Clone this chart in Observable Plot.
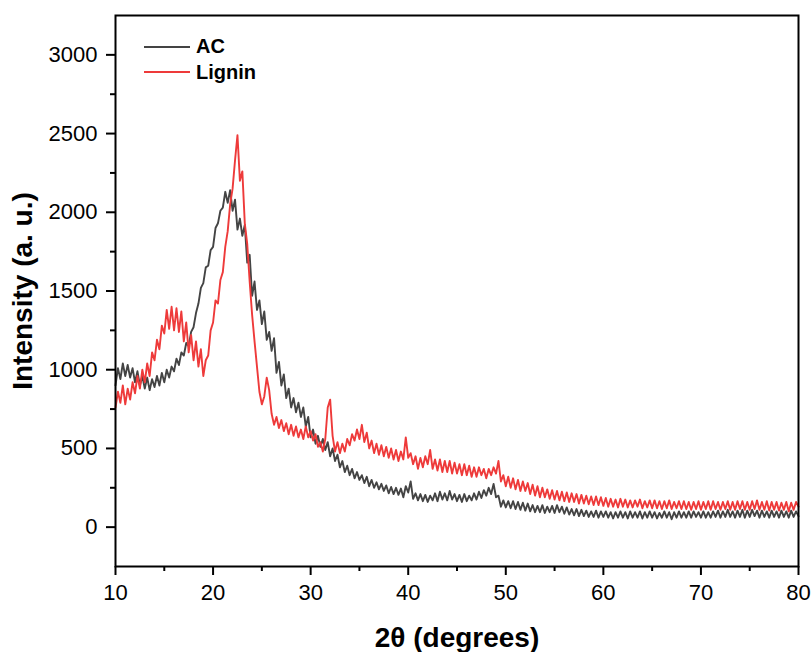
<!DOCTYPE html>
<html>
<head>
<meta charset="utf-8">
<script src="https://cdn.jsdelivr.net/npm/d3@7"></script>
<script src="https://cdn.jsdelivr.net/npm/@observablehq/plot@0.6"></script>
<style>
  html, body { margin: 0; padding: 0; background: #fff; }
  #wrap { position: relative; width: 811px; height: 652px; font-family: "Liberation Sans", Arial, sans-serif; }
  #legend { position: absolute; left: 144px; top: 34px; font-weight: bold; font-size: 20px; color: #000; }
  #legend .row { display: flex; align-items: center; height: 25.6px; }
  #legend .sw { width: 46px; height: 2px; margin-right: 6px; }
  g[aria-label="x-axis label"] text, g[aria-label="y-axis label"] text { font-size: 28px; font-weight: bold; }
</style>
</head>
<body>
<div id="wrap"><div id="chart"></div><div id="legend"></div></div>
<script>
// 2θ sampling grid (degrees): 10 to 80 every 0.25
const thetaStart = 10, thetaStep = 0.25;

// AC intensities (a. u.), one row per degree (x.00, x.25, x.50, x.75)
const acValues = [
  900,1010,940,1040,   960,1030,950,1010,   920,990,900,960,    880,950,870,940,
  890,960,900,980,     920,1000,950,1020,   990,1070,1030,1110, 1090,1170,1150,1240,
  1270,1360,1420,1520, 1550,1650,1660,1760, 1780,1900,1930,2010, 2030,2130,2060,2140,
  2010,2080,1890,1960, 1850,1920,1680,1730, 1470,1560,1380,1440, 1290,1370,1190,1240,
  1120,1200,980,1050,  900,970,820,880,     760,820,730,790,     700,760,640,700,
  570,620,530,580,     510,560,490,540,     450,500,420,460,     380,420,350,390,
  330,370,310,350,     300,330,280,320,     260,300,250,285,     240,275,230,265,
  215,255,210,250,     205,245,190,260,     220,290,180,215,     170,210,165,205,
  160,200,170,215,     165,225,175,215,     170,230,175,210,     165,205,160,210,
  165,200,170,215,     175,225,185,235,     200,250,210,275,     190,200,130,170,
  125,165,120,165,     115,160,110,155,     105,150,100,140,     95,135,95,140,
  90,130,95,135,       90,140,95,130,       85,125,80,115,       75,115,70,110,
  70,105,65,100,       65,105,60,100,       65,100,60,95,        55,95,60,100,
  60,95,55,100,        60,95,60,100,        55,95,60,100,        60,95,55,90,
  60,100,60,95,        50,95,60,100,        60,95,60,100,        60,100,65,95,
  60,100,60,95,        60,100,65,105,       60,100,65,110,       65,100,60,105,
  65,110,60,105,       65,110,70,105,       60,105,65,100,       60,105,65,100,
  60,105,65,100,       60,105,65,100,
  70
];

// Lignin intensities (a. u.), one row per degree (x.00, x.25, x.50, x.75)
const ligninValues = [
  760,860,790,900,     780,880,810,920,     850,960,880,1000,    920,1040,960,1110,
  1060,1190,1130,1280, 1230,1380,1260,1400, 1250,1390,1240,1370, 1180,1300,1110,1220,
  1060,1180,1020,1130, 960,1060,1090,1250,  1300,1440,1420,1570, 1620,1780,1880,2050,
  2150,2330,2490,2200, 2260,1930,1800,1560, 1350,1180,1020,860,  780,830,950,870,
  720,650,700,630,     680,610,660,590,     650,580,640,570,     620,560,640,570,
  610,550,590,510,     540,480,560,760,     810,580,480,540,     470,530,480,560,
  520,590,550,620,     560,650,540,600,     500,550,470,530,     460,520,450,510,
  440,500,430,490,     420,480,430,570,     440,470,400,450,     370,440,380,450,
  400,490,370,430,     360,430,350,420,     350,420,340,410,     340,400,330,400,
  330,390,320,380,     320,380,330,370,     310,370,330,380,     340,420,290,330,
  260,320,250,310,     240,300,230,290,     230,280,210,270,     200,260,190,250,
  190,240,180,235,     175,230,170,225,     165,220,160,215,     160,210,150,205,
  150,200,145,195,     140,195,140,190,     135,185,130,180,     130,175,125,180,
  130,175,125,170,     125,170,130,175,     120,165,125,170,     120,170,120,165,
  115,165,120,170,     115,160,120,165,     115,165,115,160,     110,160,115,165,
  110,160,115,165,     110,165,115,160,     110,160,115,165,     110,160,110,165,
  115,165,110,160,     110,165,115,170,     110,160,110,165,     105,160,110,160,
  105,155,110,160,     100,155,110,160,
  130
];

const seriesNames = ["AC", "Lignin"];
const seriesColors = ["#444444", "#ee3a3a"];
const xTicks = [10, 20, 30, 40, 50, 60, 70, 80];
const xMinorTicks = [15, 25, 35, 45, 55, 65, 75];
const yTicks = [0, 500, 1000, 1500, 2000, 2500, 3000];
const yMinorTicks = [250, 750, 1250, 1750, 2250, 2750];

const rows = [];
[acValues, ligninValues].forEach((vals, s) => {
  vals.forEach((v, i) => rows.push({series: seriesNames[s], theta: thetaStart + i * thetaStep, intensity: v}));
});

const font = "Liberation Sans, Arial, sans-serif";
const chart = Plot.plot({
  width: 811,
  height: 652,
  marginLeft: 115,
  marginRight: 13,
  marginTop: 15,
  marginBottom: 86,
  style: {fontFamily: font, fontSize: "22px", color: "#000", background: "#fff", overflow: "visible"},
  x: {domain: [10, 80]},
  y: {domain: [-250, 3250]},
  color: {domain: seriesNames, range: seriesColors},
  marks: [
    Plot.lineY(rows, {x: "theta", y: "intensity", z: "series", stroke: "series", strokeWidth: 1.9, curve: "linear"}),
    Plot.frame({stroke: "#000", strokeWidth: 2}),
    Plot.axisX({ticks: xTicks, tickSize: 9, tickPadding: 9, strokeWidth: 2, fontSize: 22, label: "2θ (degrees)", labelArrow: "none", labelAnchor: "center", labelOffset: 80, tickFormat: d => String(d)}),
    Plot.axisX({ticks: xMinorTicks, tickSize: 5, strokeWidth: 2, text: null, label: null}),
    Plot.axisY({ticks: yTicks, tickSize: 9, tickPadding: 9, strokeWidth: 2, fontSize: 22, label: "Intensity (a. u.)", labelArrow: "none", labelAnchor: "center", labelOffset: 103, tickFormat: d => String(d)}),
    Plot.axisY({ticks: yMinorTicks, tickSize: 5, strokeWidth: 2, text: null, label: null})
  ]
});
document.getElementById("chart").appendChild(chart);

const legend = document.getElementById("legend");
seriesNames.forEach((name, i) => {
  const row = document.createElement("div");
  row.className = "row";
  const sw = document.createElement("div");
  sw.className = "sw";
  sw.style.background = seriesColors[i];
  const t = document.createElement("span");
  t.textContent = name;
  row.appendChild(sw);
  row.appendChild(t);
  legend.appendChild(row);
});
</script>
</body>
</html>
